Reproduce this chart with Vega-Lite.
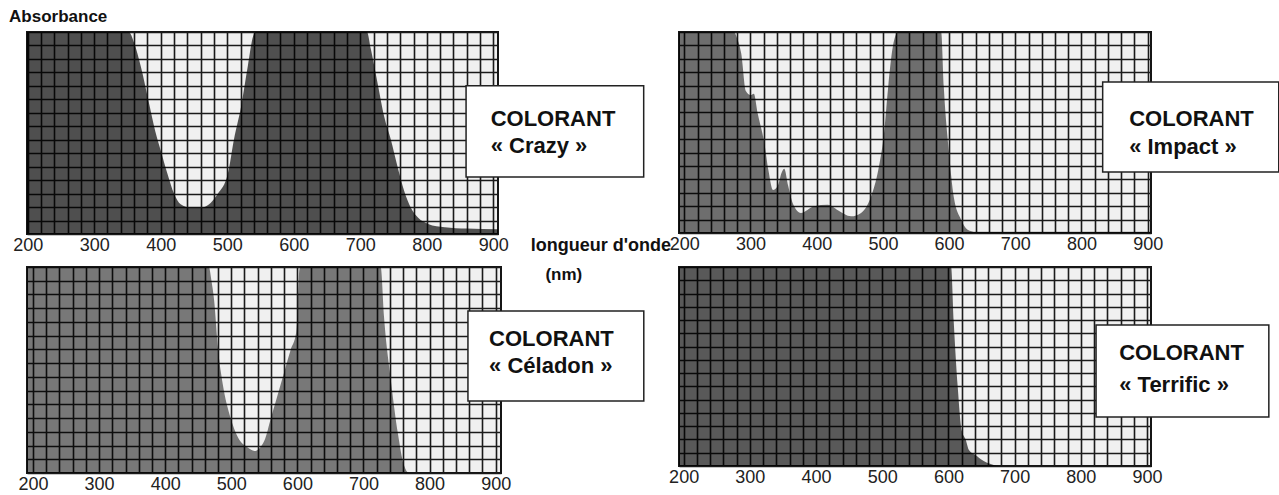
{
  "$schema": "https://vega.github.io/schema/vega-lite/v6.json",
  "background": "white",
  "padding": {"left": 8, "top": 7, "right": 0, "bottom": 0},
  "bounds": "flush",
  "align": "each",
  "columns": 2,
  "spacing": {"row": 33, "column": 178},
  "config": {
    "view": {"stroke": "#151515", "strokeWidth": 2, "fill": "#f0f0f0"},
    "axis": {"domain": false, "ticks": false, "grid": true, "gridColor": "#1a1a1a", "gridWidth": 1.6, "gridOpacity": 1, "labelFont": "Liberation Sans", "labelFontSize": 18, "labelColor": "#222"},
    "axisY": {"labels": false},
    "axisX": {"labelPadding": 2, "labelAngle": 0, "labelFlush": false, "labelOverlap": false}
  },
  "datasets": {
    "crazy": [
      {"nm": 199, "a": 15}, {"nm": 352, "a": 15}, {"nm": 360, "a": 14.2}, {"nm": 370, "a": 12.45}, {"nm": 382, "a": 9.8}, {"nm": 392, "a": 7.6}, {"nm": 400, "a": 6.2}, {"nm": 410, "a": 4.5}, {"nm": 420, "a": 3.0}, {"nm": 430, "a": 2.2}, {"nm": 445, "a": 1.95}, {"nm": 460, "a": 1.95}, {"nm": 475, "a": 2.3}, {"nm": 486, "a": 3.0}, {"nm": 501, "a": 4.5}, {"nm": 510, "a": 7.0}, {"nm": 521, "a": 9.5}, {"nm": 531, "a": 12.5}, {"nm": 539, "a": 14.7}, {"nm": 543, "a": 15}, {"nm": 710, "a": 15}, {"nm": 716, "a": 13.7}, {"nm": 726, "a": 11.2}, {"nm": 736, "a": 8.7}, {"nm": 746, "a": 7.0}, {"nm": 756, "a": 5.0}, {"nm": 766, "a": 3.2}, {"nm": 776, "a": 1.95}, {"nm": 787, "a": 1.2}, {"nm": 802, "a": 0.75}, {"nm": 827, "a": 0.5}, {"nm": 860, "a": 0.4}, {"nm": 907, "a": 0.35}
    ],
    "impact": [
      {"nm": 192, "a": 15}, {"nm": 275, "a": 15}, {"nm": 280, "a": 14.5}, {"nm": 286, "a": 13.4}, {"nm": 293, "a": 10.6}, {"nm": 300, "a": 10.3}, {"nm": 305, "a": 10.4}, {"nm": 311, "a": 8.9}, {"nm": 321, "a": 6.7}, {"nm": 327, "a": 4.7}, {"nm": 334, "a": 3.2}, {"nm": 341, "a": 3.5}, {"nm": 347, "a": 4.5}, {"nm": 351, "a": 4.8}, {"nm": 357, "a": 3.5}, {"nm": 364, "a": 2.2}, {"nm": 376, "a": 1.5}, {"nm": 396, "a": 2.0}, {"nm": 417, "a": 2.1}, {"nm": 432, "a": 1.7}, {"nm": 452, "a": 1.25}, {"nm": 467, "a": 1.5}, {"nm": 482, "a": 2.7}, {"nm": 493, "a": 4.7}, {"nm": 502, "a": 7.6}, {"nm": 508, "a": 10.9}, {"nm": 515, "a": 13.9}, {"nm": 523, "a": 15}, {"nm": 588, "a": 15}, {"nm": 592, "a": 10.9}, {"nm": 600, "a": 5.9}, {"nm": 607, "a": 2.7}, {"nm": 618, "a": 1.0}, {"nm": 628, "a": 0.25}, {"nm": 640, "a": 0.1}, {"nm": 905, "a": 0.1}
    ],
    "celadon": [
      {"nm": 191, "a": 15}, {"nm": 466, "a": 15}, {"nm": 470, "a": 14}, {"nm": 474, "a": 12.6}, {"nm": 480, "a": 9}, {"nm": 487, "a": 6.5}, {"nm": 499, "a": 4.0}, {"nm": 510, "a": 2.6}, {"nm": 525, "a": 1.85}, {"nm": 535, "a": 1.6}, {"nm": 550, "a": 2.35}, {"nm": 560, "a": 4.0}, {"nm": 575, "a": 6.5}, {"nm": 590, "a": 9}, {"nm": 598, "a": 10.2}, {"nm": 601, "a": 12.6}, {"nm": 603, "a": 14.8}, {"nm": 605, "a": 15}, {"nm": 726, "a": 15}, {"nm": 731, "a": 11.4}, {"nm": 742, "a": 6.5}, {"nm": 752, "a": 2.9}, {"nm": 761, "a": 0.6}, {"nm": 769, "a": 0}, {"nm": 908, "a": 0}
    ],
    "terrific": [
      {"nm": 193, "a": 15}, {"nm": 604, "a": 15}, {"nm": 608, "a": 10.9}, {"nm": 614, "a": 6}, {"nm": 620, "a": 2.7}, {"nm": 626, "a": 2.0}, {"nm": 631, "a": 1.2}, {"nm": 643, "a": 0.75}, {"nm": 649, "a": 0.5}, {"nm": 666, "a": 0.12}, {"nm": 680, "a": 0}, {"nm": 906, "a": 0}
    ]
  },
  "concat": [
    {
      "width": 471, "height": 202,
      "data": {"name": "crazy"},
      "layer": [
        {"mark": {"type": "area", "interpolate": "monotone", "color": "black", "opacity": 0.67},
         "encoding": {
           "x": {"field": "nm", "type": "quantitative", "scale": {"domain": [199, 907]}, "axis": {"title": null, "values": [200,220,240,260,280,300,320,340,360,380,400,420,440,460,480,500,520,540,560,580,600,620,640,660,680,700,720,740,760,780,800,820,840,860,880,900], "labelExpr": "datum.value % 100 === 0 ? datum.label : ''"}},
           "y": {"field": "a", "type": "quantitative", "scale": {"domain": [0, 15]}, "axis": {"title": null, "values": [0,1,2,3,4,5,6,7,8,9,10,11,12,13,14,15]}}
         }},
        {"data": {"values": [{}]}, "mark": {"type": "rect", "fill": "white", "stroke": "#222", "strokeWidth": 1.5},
         "encoding": {
           "x": {"datum": 859, "scale": {"domain": [199, 907]}, "axis": {"title": null, "values": [200,220,240,260,280,300,320,340,360,380,400,420,440,460,480,500,520,540,560,580,600,620,640,660,680,700,720,740,760,780,800,820,840,860,880,900], "labelExpr": "datum.value % 100 === 0 ? datum.label : ''"}},
           "x2": {"datum": 1126},
           "y": {"datum": 11.0, "scale": {"domain": [0, 15]}, "axis": {"title": null, "values": [0,1,2,3,4,5,6,7,8,9,10,11,12,13,14,15]}},
           "y2": {"datum": 4.24}}},
        {"data": {"values": [{}]}, "mark": {"type": "text", "text": ["COLORANT", "« Crazy »"], "align": "left", "baseline": "alphabetic", "font": "Liberation Sans", "fontWeight": "bold", "fontSize": 22, "lineHeight": 27, "color": "#111"},
         "encoding": {
           "x": {"datum": 896, "scale": {"domain": [199, 907]}, "axis": {"title": null, "values": [200,220,240,260,280,300,320,340,360,380,400,420,440,460,480,500,520,540,560,580,600,620,640,660,680,700,720,740,760,780,800,820,840,860,880,900], "labelExpr": "datum.value % 100 === 0 ? datum.label : ''"}},
           "y": {"datum": 8.02, "scale": {"domain": [0, 15]}, "axis": {"title": null, "values": [0,1,2,3,4,5,6,7,8,9,10,11,12,13,14,15]}}}},
        {"data": {"values": [{}]}, "mark": {"type": "text", "text": "Absorbance", "align": "left", "baseline": "alphabetic", "font": "Liberation Sans", "fontWeight": "bold", "fontSize": 17, "color": "#111"},
         "encoding": {
           "x": {"datum": 172, "scale": {"domain": [199, 907]}, "axis": {"title": null, "values": [200,220,240,260,280,300,320,340,360,380,400,420,440,460,480,500,520,540,560,580,600,620,640,660,680,700,720,740,760,780,800,820,840,860,880,900], "labelExpr": "datum.value % 100 === 0 ? datum.label : ''"}},
           "y": {"datum": 15.74, "scale": {"domain": [0, 15]}, "axis": {"title": null, "values": [0,1,2,3,4,5,6,7,8,9,10,11,12,13,14,15]}}}}
      ]
    },
    {
      "width": 472, "height": 201,
      "data": {"name": "impact"},
      "layer": [
        {"mark": {"type": "area", "interpolate": "monotone", "color": "black", "opacity": 0.54},
         "encoding": {
           "x": {"field": "nm", "type": "quantitative", "scale": {"domain": [192, 905]}, "axis": {"title": null, "values": [200,220,240,260,280,300,320,340,360,380,400,420,440,460,480,500,520,540,560,580,600,620,640,660,680,700,720,740,760,780,800,820,840,860,880,900], "labelExpr": "datum.value % 100 === 0 ? datum.label : ''"}},
           "y": {"field": "a", "type": "quantitative", "scale": {"domain": [0, 15]}, "axis": {"title": null, "values": [0,1,2,3,4,5,6,7,8,9,10,11,12,13,14,15]}}
         }},
        {"data": {"values": [{}]}, "mark": {"type": "rect", "fill": "white", "stroke": "#222", "strokeWidth": 1.5},
         "encoding": {
           "x": {"datum": 832, "scale": {"domain": [192, 905]}, "axis": {"title": null, "values": [200,220,240,260,280,300,320,340,360,380,400,420,440,460,480,500,520,540,560,580,600,620,640,660,680,700,720,740,760,780,800,820,840,860,880,900], "labelExpr": "datum.value % 100 === 0 ? datum.label : ''"}},
           "x2": {"datum": 1098},
           "y": {"datum": 11.27, "scale": {"domain": [0, 15]}, "axis": {"title": null, "values": [0,1,2,3,4,5,6,7,8,9,10,11,12,13,14,15]}},
           "y2": {"datum": 4.55}}},
        {"data": {"values": [{}]}, "mark": {"type": "text", "text": ["COLORANT", "« Impact »"], "align": "left", "baseline": "alphabetic", "font": "Liberation Sans", "fontWeight": "bold", "fontSize": 22, "lineHeight": 28, "color": "#111"},
         "encoding": {
           "x": {"datum": 872, "scale": {"domain": [192, 905]}, "axis": {"title": null, "values": [200,220,240,260,280,300,320,340,360,380,400,420,440,460,480,500,520,540,560,580,600,620,640,660,680,700,720,740,760,780,800,820,840,860,880,900], "labelExpr": "datum.value % 100 === 0 ? datum.label : ''"}},
           "y": {"datum": 7.99, "scale": {"domain": [0, 15]}, "axis": {"title": null, "values": [0,1,2,3,4,5,6,7,8,9,10,11,12,13,14,15]}}}},
        {"data": {"values": [{}]}, "mark": {"type": "text", "text": "longueur d'onde", "align": "right", "baseline": "alphabetic", "font": "Liberation Sans", "fontWeight": "bold", "fontSize": 18, "color": "#111"},
         "encoding": {
           "x": {"datum": 180, "scale": {"domain": [192, 905]}, "axis": {"title": null, "values": [200,220,240,260,280,300,320,340,360,380,400,420,440,460,480,500,520,540,560,580,600,620,640,660,680,700,720,740,760,780,800,820,840,860,880,900], "labelExpr": "datum.value % 100 === 0 ? datum.label : ''"}},
           "y": {"datum": -1.34, "scale": {"domain": [0, 15]}, "axis": {"title": null, "values": [0,1,2,3,4,5,6,7,8,9,10,11,12,13,14,15]}}}},
        {"data": {"values": [{}]}, "mark": {"type": "text", "text": "(nm)", "align": "center", "baseline": "alphabetic", "font": "Liberation Sans", "fontWeight": "bold", "fontSize": 17, "color": "#111"},
         "encoding": {
           "x": {"datum": 18, "scale": {"domain": [192, 905]}, "axis": {"title": null, "values": [200,220,240,260,280,300,320,340,360,380,400,420,440,460,480,500,520,540,560,580,600,620,640,660,680,700,720,740,760,780,800,820,840,860,880,900], "labelExpr": "datum.value % 100 === 0 ? datum.label : ''"}},
           "y": {"datum": -3.5, "scale": {"domain": [0, 15]}, "axis": {"title": null, "values": [0,1,2,3,4,5,6,7,8,9,10,11,12,13,14,15]}}}}
      ]
    },
    {
      "width": 474, "height": 206,
      "data": {"name": "celadon"},
      "layer": [
        {"mark": {"type": "area", "interpolate": "monotone", "color": "black", "opacity": 0.5},
         "encoding": {
           "x": {"field": "nm", "type": "quantitative", "scale": {"domain": [191, 908]}, "axis": {"title": null, "values": [200,220,240,260,280,300,320,340,360,380,400,420,440,460,480,500,520,540,560,580,600,620,640,660,680,700,720,740,760,780,800,820,840,860,880,900], "labelExpr": "datum.value % 100 === 0 ? datum.label : ''"}},
           "y": {"field": "a", "type": "quantitative", "scale": {"domain": [0, 15]}, "axis": {"title": null, "values": [0,1,2,3,4,5,6,7,8,9,10,11,12,13,14,15]}}
         }},
        {"data": {"values": [{}]}, "mark": {"type": "rect", "fill": "white", "stroke": "#222", "strokeWidth": 1.5},
         "encoding": {
           "x": {"datum": 858, "scale": {"domain": [191, 908]}, "axis": {"title": null, "values": [200,220,240,260,280,300,320,340,360,380,400,420,440,460,480,500,520,540,560,580,600,620,640,660,680,700,720,740,760,780,800,820,840,860,880,900], "labelExpr": "datum.value % 100 === 0 ? datum.label : ''"}},
           "x2": {"datum": 1124},
           "y": {"datum": 11.8, "scale": {"domain": [0, 15]}, "axis": {"title": null, "values": [0,1,2,3,4,5,6,7,8,9,10,11,12,13,14,15]}},
           "y2": {"datum": 5.24}}},
        {"data": {"values": [{}]}, "mark": {"type": "text", "text": ["COLORANT", "« Céladon »"], "align": "left", "baseline": "alphabetic", "font": "Liberation Sans", "fontWeight": "bold", "fontSize": 22, "lineHeight": 27, "color": "#111"},
         "encoding": {
           "x": {"datum": 890, "scale": {"domain": [191, 908]}, "axis": {"title": null, "values": [200,220,240,260,280,300,320,340,360,380,400,420,440,460,480,500,520,540,560,580,600,620,640,660,680,700,720,740,760,780,800,820,840,860,880,900], "labelExpr": "datum.value % 100 === 0 ? datum.label : ''"}},
           "y": {"datum": 9.25, "scale": {"domain": [0, 15]}, "axis": {"title": null, "values": [0,1,2,3,4,5,6,7,8,9,10,11,12,13,14,15]}}}}
      ]
    },
    {
      "width": 472, "height": 199,
      "data": {"name": "terrific"},
      "layer": [
        {"mark": {"type": "area", "interpolate": "monotone", "color": "black", "opacity": 0.63},
         "encoding": {
           "x": {"field": "nm", "type": "quantitative", "scale": {"domain": [193, 906]}, "axis": {"title": null, "values": [200,220,240,260,280,300,320,340,360,380,400,420,440,460,480,500,520,540,560,580,600,620,640,660,680,700,720,740,760,780,800,820,840,860,880,900], "labelExpr": "datum.value % 100 === 0 ? datum.label : ''"}},
           "y": {"field": "a", "type": "quantitative", "scale": {"domain": [0, 15]}, "axis": {"title": null, "values": [0,1,2,3,4,5,6,7,8,9,10,11,12,13,14,15]}}
         }},
        {"data": {"values": [{}]}, "mark": {"type": "rect", "fill": "white", "stroke": "#222", "strokeWidth": 1.5},
         "encoding": {
           "x": {"datum": 823, "scale": {"domain": [193, 906]}, "axis": {"title": null, "values": [200,220,240,260,280,300,320,340,360,380,400,420,440,460,480,500,520,540,560,580,600,620,640,660,680,700,720,740,760,780,800,820,840,860,880,900], "labelExpr": "datum.value % 100 === 0 ? datum.label : ''"}},
           "x2": {"datum": 1084},
           "y": {"datum": 10.63, "scale": {"domain": [0, 15]}, "axis": {"title": null, "values": [0,1,2,3,4,5,6,7,8,9,10,11,12,13,14,15]}},
           "y2": {"datum": 3.7}}},
        {"data": {"values": [{}]}, "mark": {"type": "text", "text": ["COLORANT", "« Terrific »"], "align": "left", "baseline": "alphabetic", "font": "Liberation Sans", "fontWeight": "bold", "fontSize": 22, "lineHeight": 32, "color": "#111"},
         "encoding": {
           "x": {"datum": 858, "scale": {"domain": [193, 906]}, "axis": {"title": null, "values": [200,220,240,260,280,300,320,340,360,380,400,420,440,460,480,500,520,540,560,580,600,620,640,660,680,700,720,740,760,780,800,820,840,860,880,900], "labelExpr": "datum.value % 100 === 0 ? datum.label : ''"}},
           "y": {"datum": 7.99, "scale": {"domain": [0, 15]}, "axis": {"title": null, "values": [0,1,2,3,4,5,6,7,8,9,10,11,12,13,14,15]}}}}
      ]
    }
  ]
}
